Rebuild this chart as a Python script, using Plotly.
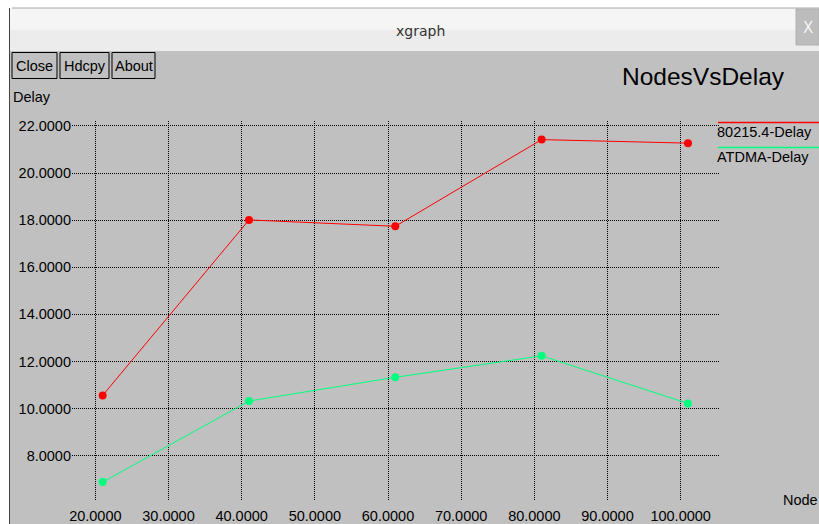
import plotly.graph_objects as go

# ---- data ----
nodes = [21, 41, 61, 81, 101]
delay_802154 = [10.56, 18.01, 17.74, 21.42, 21.27]
delay_atdma = [6.88, 10.32, 11.33, 12.24, 10.22]
series_names = ["80215.4-Delay", "ATDMA-Delay"]
x_ticks = [20, 30, 40, 50, 60, 70, 80, 90, 100]
y_ticks = [8, 10, 12, 14, 16, 18, 20, 22]
title_text = "NodesVsDelay"
y_label = "Delay"
x_label = "Node"
buttons = ["Close", "Hdcpy", "About"]

# ---- layout geometry (pixels) ----
W, H = 819, 524
L, R, T, B = 72, 719, 121, 500
FONT = "Liberation Sans, Arial, sans-serif"
RED = "#ff0000"
GREEN = "#00ff7f"
GRAY = "#c0c0c0"


def px(x):
    return (x - L) / (R - L)


def py(y):
    return (B - y) / (B - T)


fig = go.Figure()
fig.add_trace(go.Scatter(x=nodes, y=delay_802154, name=series_names[0],
                         mode="lines+markers", line=dict(color=RED, width=1),
                         marker=dict(color=RED, size=8), showlegend=False))
fig.add_trace(go.Scatter(x=nodes, y=delay_atdma, name=series_names[1],
                         mode="lines+markers", line=dict(color=GREEN, width=1),
                         marker=dict(color=GREEN, size=8), showlegend=False))

shapes = []


def rect(x0, y0, x1, y1, fill=None, line=None, lw=0):
    shapes.append(dict(type="rect", xref="paper", yref="paper",
                       x0=px(x0), x1=px(x1), y0=py(y1), y1=py(y0),
                       fillcolor=fill if fill else "rgba(0,0,0,0)",
                       line=dict(color=line if line else "rgba(0,0,0,0)", width=lw),
                       layer="below"))


def hline(x0, x1, y, color, lw=1):
    shapes.append(dict(type="line", xref="paper", yref="paper",
                       x0=px(x0), x1=px(x1), y0=py(y), y1=py(y),
                       line=dict(color=color, width=lw), layer="above"))


def vline(x, y0, y1, color, lw=1):
    shapes.append(dict(type="line", xref="paper", yref="paper",
                       x0=px(x), x1=px(x), y0=py(y0), y1=py(y1),
                       line=dict(color=color, width=lw), layer="below"))


# window chrome
rect(10, 8, 819, 30, fill="#f5f5f5")
rect(10, 30, 819, 51, fill="#ececec")
hline(12, 819, 8, "#a8a8a8")
rect(10, 51, 819, 524, fill=GRAY)
vline(9.5, 8, 524, "#444444")
rect(796, 9, 819, 45, fill="#bcbcbc", line="#b0b0b0", lw=1)

# buttons
btn_boxes = [(12, 57), (60, 109), (112, 155)]
for (bx0, bx1) in btn_boxes:
    rect(bx0, 52.5, bx1, 78.5, line="#000000", lw=1)

# legend lines
hline(718, 819, 122.5, RED, lw=1.3)
hline(718, 819, 147.5, GREEN, lw=1.3)

annotations = []


def text(t, x, y, size=14.5, xanchor="left", color="#000000", family=FONT):
    annotations.append(dict(text=t, xref="paper", yref="paper",
                            x=px(x), y=py(y), xanchor=xanchor, yanchor="middle",
                            showarrow=False,
                            font=dict(family=family, size=size, color=color)))


text("xgraph", 420, 31, size=14, xanchor="center", color="#333333",
     family="DejaVu Sans, sans-serif")
text("X", 808, 28, size=15, xanchor="center", color="#f4f4f4",
     family="DejaVu Sans, sans-serif")
for name, (bx0, bx1) in zip(buttons, btn_boxes):
    text(name, (bx0 + bx1) / 2, 65.5, size=14.5, xanchor="center")
text(title_text, 620, 76, size=24.5)
text(y_label, 11, 97, size=14.5)
text(x_label, 781, 500, size=14.5)
text(series_names[0], 715, 132, size=14.5)
text(series_names[1], 715, 157, size=14.5)

axis_common = dict(showgrid=True, gridcolor="#000000", gridwidth=1,
                   griddash="1px,1px", zeroline=False, showline=False,
                   ticks="", tickformat=".4f", fixedrange=True,
                   automargin=False,
                   tickfont=dict(family=FONT, size=14.5, color="#000000"))

fig.update_layout(
    width=W, height=H,
    margin=dict(l=L, r=W - R, t=T, b=H - B, pad=0, autoexpand=False),
    paper_bgcolor="#ffffff",
    plot_bgcolor=GRAY,
    xaxis=dict(range=[16.81, 105.24], tickvals=x_ticks,
               ticklabelstandoff=5, **axis_common),
    yaxis=dict(range=[6.12, 22.21], tickvals=y_ticks,
               ticklabelstandoff=0, **axis_common),
    shapes=shapes,
    annotations=annotations,
    showlegend=False,
)

fig.write_html("out.html", config={"displayModeBar": False},
               post_script="document.body.style.margin='0';"
                           "document.body.style.overflow='hidden';")
